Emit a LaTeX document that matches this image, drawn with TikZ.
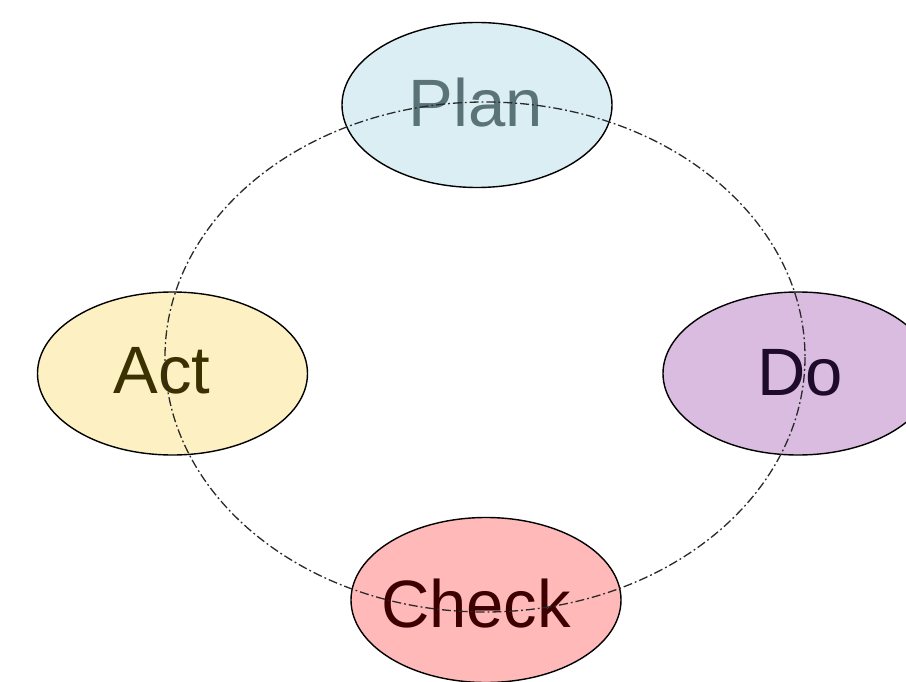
\documentclass[tikz,border=0pt]{standalone}
\usepackage{fontspec}
\setmainfont{Liberation Sans}
\usetikzlibrary{shapes.geometric}
\definecolor{planfill}{HTML}{DAEEF3}
\definecolor{plantext}{HTML}{5A7379}
\definecolor{actfill}{HTML}{FDF1C4}
\definecolor{acttext}{HTML}{3B3000}
\definecolor{dofill}{HTML}{D9BCE0}
\definecolor{dotext}{HTML}{1E0A2A}
\definecolor{checkfill}{HTML}{FFB9B9}
\definecolor{checktext}{HTML}{3D0000}
\definecolor{cyclecol}{HTML}{2A2A2A}
\tikzset{
  phase/.style={ellipse, draw=black, line width=1.4pt, minimum width=270pt, minimum height=165pt, inner sep=0pt},
  phasetext/.style={anchor=base, inner sep=0pt, font=\fontsize{67}{80}\selectfont},
  cycle/.style={draw=cyclecol, line width=1.3pt, dash pattern=on 9pt off 3pt on 1.8pt off 3pt}
}
\begin{document}
\begin{tikzpicture}[x=1pt,y=-1pt]
\useasboundingbox (0,0) rectangle (906,682);
\clip (0,0) rectangle (906,682);
\fill[white] (0,0) rectangle (906,682);
\node[phase, fill=planfill] (plan) at (477,105) {};
\node[phase, fill=actfill, minimum height=163pt] (act) at (172.5,373.5) {};
\node[phase, fill=dofill, minimum height=163pt] (do) at (798,373.5) {};
\node[phase, fill=checkfill] (check) at (486,600) {};
\node[phasetext, text=plantext] (planlabel) at (476,127) {Plan};
\node[phasetext, text=acttext] (actlabel) at (162,393) {Act};
\node[phasetext, text=dotext] (dolabel) at (800,395) {Do};
\node[phasetext, text=checktext] (checklabel) at (476,627) {Check};
\coordinate (cyclecenter) at (485,357);
\draw[cycle] (cyclecenter) ellipse [x radius=320, y radius=255];
\end{tikzpicture}
\end{document}
